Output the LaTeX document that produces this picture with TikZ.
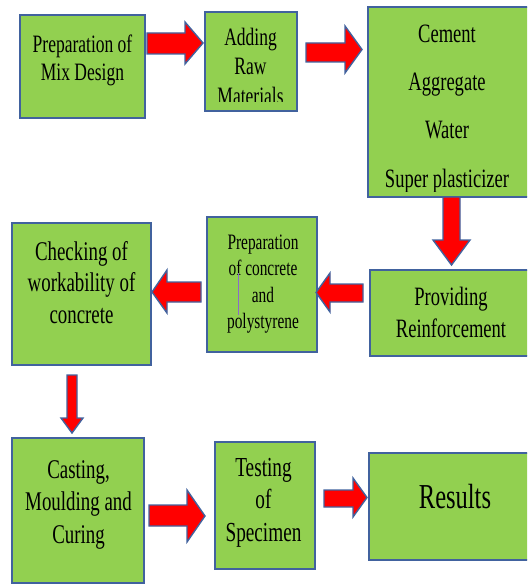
\documentclass[tikz,border=0pt]{standalone}
\usepackage{fontspec}
\setmainfont{Liberation Serif}[FakeStretch=0.7]
\definecolor{boxgreen}{HTML}{92D050}
\definecolor{edgeblue}{HTML}{41629E}
\definecolor{arrowred}{HTML}{FF0000}
\definecolor{markpurple}{HTML}{8A6CC8}
\tikzset{
  stagebox/.style={draw=edgeblue, fill=boxgreen, line width=1.8pt, rectangle, inner sep=0pt, outer sep=0pt, anchor=north west},
  label/.style={align=center, anchor=base, inner sep=0pt, text=black},
  blockarrow/.style={draw=edgeblue, fill=arrowred, line width=1.4pt, line join=miter}
}
\begin{document}
\begin{tikzpicture}[x=1pt,y=-1pt]
\useasboundingbox (0,0) rectangle (527,585);
\clip (0,0) rectangle (527,585);
% boxes
\node[stagebox, minimum width=125pt, minimum height=103pt] (b1) at (20,15) {};
\node[stagebox, minimum width=92pt, minimum height=99pt] (b2) at (205,12) {};
\node[stagebox, minimum width=170pt, minimum height=190pt] (b3) at (368,7) {};
\node[stagebox, minimum width=139pt, minimum height=142pt] (b4) at (12,223) {};
\node[stagebox, minimum width=110pt, minimum height=135pt] (b5) at (207,217) {};
\node[stagebox, minimum width=170pt, minimum height=86pt] (b6) at (370,270) {};
\node[stagebox, minimum width=132pt, minimum height=145pt] (b7) at (12,438) {};
\node[stagebox, minimum width=100pt, minimum height=127pt] (b8) at (215,442) {};
\node[stagebox, minimum width=170pt, minimum height=107pt] (b9) at (369,453) {};
% texts (anchor = baseline of the last line)
\node[label, font=\fontsize{25}{28}\selectfont] (t1) at (82.5,81) {Preparation of\\Mix Design};
\begin{scope}
\clip (205,12) rectangle (297,102);
\node[label, font=\fontsize{25}{29.5}\selectfont] (t2) at (250.5,104.5) {Adding\\Raw\\Materials};
\end{scope}
\begin{scope}
\clip (368,7) rectangle (527,192);
\node[label, font=\fontsize{26.5}{48.3}\selectfont] (t3) at (447,187) {Cement\\Aggregate\\Water\\Super plasticizer};
\end{scope}
\node[label, font=\fontsize{27}{31.5}\selectfont] (t4) at (81.5,323) {Checking of\\workability of\\concrete};
\node[label, font=\fontsize{22}{26.5}\selectfont] (t5) at (263,328.5) {Preparation\\of concrete\\and\\polystyrene};
\node[label, font=\fontsize{26.5}{32}\selectfont] (t6) at (451,337) {Providing\\Reinforcement};
\node[label, font=\fontsize{27}{32.5}\selectfont] (t7) at (78.5,543) {Casting,\\Moulding and\\Curing};
\node[label, font=\fontsize{27.5}{32.5}\selectfont] (t8) at (263.5,541) {Testing\\of\\Specimen};
\node[label, font=\fontsize{35}{40}\selectfont] (t9) at (455,508) {Results};
% stray mark
\draw[markpurple, line width=0.8pt] (238,273) -- (238,315);
% block arrows
\draw[blockarrow] (147,33) -- (185,33) -- (185,22) -- (203,43) -- (185,64) -- (185,54) -- (147,54) -- cycle;
\draw[blockarrow] (306,43) -- (345,43) -- (345,26) -- (362,49.5) -- (345,73) -- (345,62) -- (306,62) -- cycle;
\draw[blockarrow] (443,197) -- (443,240) -- (433,240) -- (451.5,265) -- (470,240) -- (460,240) -- (460,197) -- cycle;
\draw[blockarrow] (363,284) -- (330,284) -- (330,273) -- (316,292.5) -- (330,312) -- (330,302) -- (363,302) -- cycle;
\draw[blockarrow] (201,282) -- (167,282) -- (167,270) -- (152,292) -- (167,313) -- (167,302) -- (201,302) -- cycle;
\draw[blockarrow] (67,375) -- (67,418) -- (61,418) -- (72,433) -- (83,418) -- (77,418) -- (77,375) -- cycle;
\draw[blockarrow] (149,505) -- (187,505) -- (187,490) -- (205,516) -- (187,542) -- (187,526) -- (149,526) -- cycle;
\draw[blockarrow] (324,490) -- (353,490) -- (353,478) -- (367,497.5) -- (353,517) -- (353,507) -- (324,507) -- cycle;
\end{tikzpicture}
\end{document}
